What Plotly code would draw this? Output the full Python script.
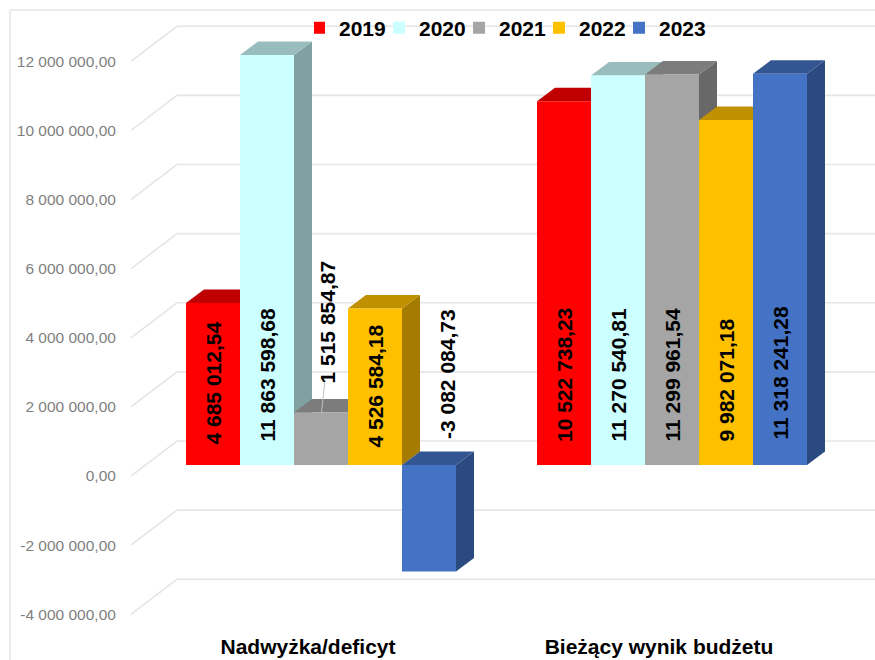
import plotly.graph_objects as go

categories = ["Nadwyżka/deficyt", "Bieżący wynik budżetu"]
years = ["2019", "2020", "2021", "2022", "2023"]
values_2019 = [4685012.54, 10522738.23]
values_2020 = [11863598.68, 11270540.81]
values_2021 = [1515854.87, 11299961.54]
values_2022 = [4526584.18, 9982071.18]
values_2023 = [-3082084.73, 11318241.28]
tick_values = [-4e6, -2e6, 0, 2e6, 4e6, 6e6, 8e6, 10e6, 12e6]
series = [values_2019, values_2020, values_2021, values_2022, values_2023]

front = ["#FF0000", "#CCFFFF", "#A5A5A5", "#FFC000", "#4472C4"]
top = ["#C00000", "#99BDBD", "#7C7C7C", "#BF9000", "#335693"]
side = ["#A80000", "#80A1A1", "#686868", "#A67C00", "#2B4A80"]

W, H = 875, 660
PX_PER_CAT = 351.0      # pixels between the two categories
PX_PER_VAL = 34.56 / 1e6
X0_PX, Y0_PX = 308.0, 476.0   # pixel of category 0 / value 0 in the axis plane
L, R, T, B = 131, 875, 11, 625   # plot area in pixels


def dx(px):
    return px / PX_PER_CAT


def dv(px):
    return px / PX_PER_VAL


BAR_W = dx(54)
BAR_X = dx(13)     # depth shift of bar front plane from axis plane
BAR_Y = dv(11)
DEPTH_X, DEPTH_Y = dx(18), dv(13.5)

fig = go.Figure()


def pl(v):
    return f"{v:,.2f}".replace(",", " ").replace(".", ",")


x_lo = (L - X0_PX) / PX_PER_CAT
x_hi = (R - X0_PX) / PX_PER_CAT
y_lo = (Y0_PX - B) / PX_PER_VAL
y_hi = (Y0_PX - T) / PX_PER_VAL
grid_back_x = (177 - X0_PX) / PX_PER_CAT
GRID_BACK = dv(35)

# walls: gridlines running from the label plane to the back wall and across
for t in tick_values:
    fig.add_trace(go.Scatter(
        x=[x_lo, grid_back_x, x_hi],
        y=[t, t + GRID_BACK, t + GRID_BACK],
        mode="lines", line=dict(color="#E6E6E6", width=1.6),
        hoverinfo="skip", showlegend=False, cliponaxis=False))

for j, vals in enumerate(series):
    xs = [i + BAR_X + (j - 2) * BAR_W for i in range(len(categories))]
    for x, v in zip(xs, vals):
        hi = max(v, 0) + BAR_Y
        lo = min(v, 0) + BAR_Y
        xr = x + BAR_W / 2
        xl = x - BAR_W / 2
        # side face
        fig.add_trace(go.Scatter(
            x=[xr, xr + DEPTH_X, xr + DEPTH_X, xr, xr],
            y=[lo, lo + DEPTH_Y, hi + DEPTH_Y, hi, lo],
            mode="lines", fill="toself", fillcolor=side[j],
            line=dict(width=0, color=side[j]), hoverinfo="skip", showlegend=False))
        # top face
        fig.add_trace(go.Scatter(
            x=[xl, xl + DEPTH_X, xr + DEPTH_X, xr, xl],
            y=[hi, hi + DEPTH_Y, hi + DEPTH_Y, hi, hi],
            mode="lines", fill="toself", fillcolor=top[j],
            line=dict(width=0, color=top[j]), hoverinfo="skip", showlegend=False))
        # front face
        fig.add_trace(go.Scatter(
            x=[xl, xr, xr, xl, xl],
            y=[lo, lo, hi, hi, lo],
            mode="lines", fill="toself", fillcolor=front[j],
            line=dict(width=0, color=front[j]), hoverinfo="skip", showlegend=False))

# legend entries
for j, y in enumerate(years):
    fig.add_trace(go.Bar(x=[None], y=[None], name=y, marker=dict(color=front[j], line=dict(width=0))))

# data labels
label_shift = {(0, 0): (0, 18), (1, 0): (0, 21), (2, 0): (6, 79), (3, 0): (0, 15), (4, 0): (18, 24),
               (0, 1): (0, 21), (1, 1): (0, 21), (2, 1): (0, 21), (3, 1): (0, 21), (4, 1): (0, 23)}
annotations = []
for j, vals in enumerate(series):
    for i, v in enumerate(vals):
        xs, ys = label_shift[(j, i)]
        annotations.append(dict(
            x=i + BAR_X + (j - 2) * BAR_W, y=BAR_Y, xref="x", yref="y",
            text="<b>" + pl(v) + "</b>", textangle=-90, showarrow=False,
            xanchor="center", yanchor="bottom", xshift=xs, yshift=ys,
            font=dict(family="Liberation Sans", size=21, color="#000000")))

# leader line of the 2021 label
lead_x = 0 + BAR_X
fig.add_trace(go.Scatter(
    x=[lead_x + dx(0.5), lead_x + dx(4)],
    y=[values_2021[0] + BAR_Y, values_2021[0] + BAR_Y + dv(33)],
    mode="lines", line=dict(color="#BFBFBF", width=1), hoverinfo="skip", showlegend=False))

left_frame = -(L - 10) / (R - L)
top_frame = 1 + 1 / (B - T)
fig.update_layout(
    width=W, height=H, autosize=False,
    margin=dict(l=L, r=W - R, t=T, b=H - B, autoexpand=False),
    paper_bgcolor="white", plot_bgcolor="white",
    showlegend=True,
    legend=dict(orientation="h", x=314 / W, xanchor="left", xref="container",
                y=1 - 28 / H, yanchor="middle", yref="container",
                entrywidth=50, entrywidthmode="pixels", indentation=-15,
                bgcolor="rgba(0,0,0,0)", traceorder="normal",
                font=dict(family="Liberation Sans", size=21, color="#000000", weight="bold")),
    xaxis=dict(range=[x_lo, x_hi], tickmode="array", tickvals=[0, 1], ticktext=categories,
               showgrid=False, zeroline=False, showline=False, ticks="outside", ticklen=3,
               tickcolor="rgba(0,0,0,0)",
               tickfont=dict(family="Liberation Sans", size=21, color="#000000", weight="bold")),
    yaxis=dict(range=[y_lo, y_hi], tickmode="array", tickvals=tick_values,
               ticktext=[pl(t) for t in tick_values],
               showgrid=False, zeroline=False, showline=False, ticks="outside", ticklen=11,
               tickcolor="rgba(0,0,0,0)",
               tickfont=dict(family="Liberation Sans", size=15.5, color="#7F7F7F")),
    annotations=annotations,
    shapes=[
        dict(type="line", xref="paper", yref="paper", x0=left_frame, x1=1, y0=top_frame, y1=top_frame,
             line=dict(color="#E6E6E6", width=1.5)),
        dict(type="line", xref="paper", yref="paper", x0=left_frame, x1=left_frame,
             y0=-(H - B) / (B - T), y1=top_frame, line=dict(color="#E6E6E6", width=1.5)),
    ],
)

fig.write_html("out.html", post_script="document.body.style.margin='0';",
               config=dict(displayModeBar=False))
